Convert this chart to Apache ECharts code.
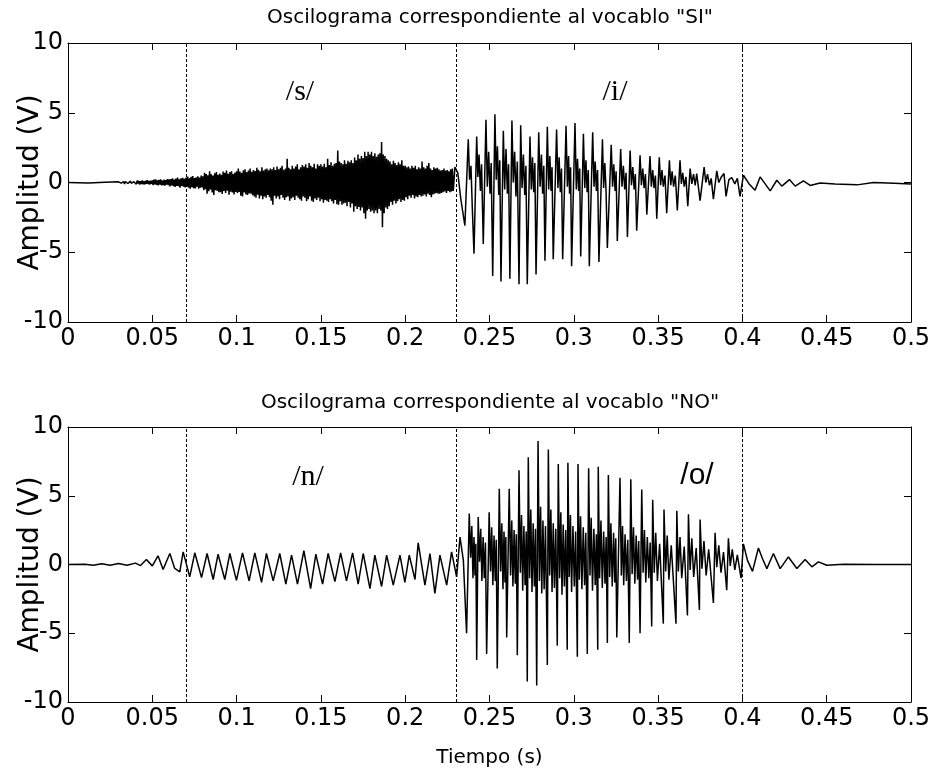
<!DOCTYPE html>
<html>
<head>
<meta charset="utf-8">
<title>Oscilogramas SI / NO</title>
<script src="https://cdn.jsdelivr.net/npm/echarts@6/dist/echarts.min.js"></script>
<style>
  html, body { margin: 0; padding: 0; background: #fff; }
  #chart { width: 930px; height: 774px; }
</style>
</head>
<body>
<div id="chart"></div>
<script>
// tick labels
const xTickLabels = [ '0', '0.05', '0.1', '0.15', '0.2', '0.25', '0.3', '0.35', '0.4', '0.45', '0.5' ]
const yTickLabels = [ '-10', '-5', '0', '5', '10' ]

// segment boundaries (s)
const boundaries = [ 0.068, 0.2295, 0.4 ]

// phoneme labels
const siLabels = [ '/s/', '/i/' ]
const noLabels = [ '/n/', '/o/' ]

// "SI": silence before the fricative
const siLead = [ [ 0, 0 ], [ 0.012, -0.03 ], [ 0.022, 0.02 ] ]

// "SI": /s/ noise, one sample every 0.5 ms starting at 0.030 s (one row = 10 ms)
const siNoiseStart = 0.03
const siNoiseStep = 0.0005
const siNoise = [
  0.05, -0.06, 0.08, -0.04, 0.1, -0.08, 0.06, -0.1, 0.07, -0.05, 0.09, -0.07, 0.05, -0.09, 0.1, -0.06, 0.08, -0.1, 0.06, -0.08,
  0.1, -0.12, 0.14, -0.08, 0.12, -0.15, 0.09, -0.11, 0.15, -0.13, 0.1, -0.14, 0.12, -0.09, 0.16, -0.12, 0.11, -0.15, 0.13, -0.1,
  0.15, -0.18, 0.2, -0.14, 0.22, -0.17, 0.16, -0.21, 0.19, -0.15, 0.23, -0.2, 0.14, -0.18, 0.21, -0.22, 0.17, -0.16, 0.24, -0.19,
  0.22, -0.28, 0.25, -0.2, 0.3, -0.26, 0.21, -0.32, 0.28, -0.24, 0.35, -0.27, 0.23, -0.38, 0.3, -0.25, 0.33, -0.3, 0.26, -0.35,
  0.35, -0.3, 0.42, -0.38, 0.3, -0.45, 0.4, -0.33, 0.46, -0.4, 0.32, -0.42, 0.38, -0.3, 0.45, -0.44, 0.36, -0.38, 0.5, -0.35,
  0.45, -0.55, 0.7, -0.48, 0.6, -0.8, 0.52, -0.62, 0.8, -0.5, 0.58, -0.72, 0.5, -0.9, 0.66, -0.55, 0.75, -0.6, 0.55, -0.7,
  0.65, -0.7, 0.55, -0.82, 0.78, -0.6, 0.7, -0.75, 0.85, -0.58, 0.62, -0.88, 0.75, -0.66, 0.8, -0.72, 0.6, -0.85, 0.72, -0.68,
  0.8, -0.75, 1.0, -0.68, 0.78, -0.95, 0.7, -1.0, 0.88, -0.72, 0.95, -0.85, 0.75, -0.9, 0.85, -0.78, 1.0, -0.8, 0.76, -0.92,
  0.9, -1.0, 0.82, -1.1, 1.05, -0.88, 0.92, -1.15, 0.8, -0.95, 1.1, -1.2, 0.86, -1.0, 0.95, -1.1, 1.0, -0.9, 0.88, -1.05,
  1.0, -1.3, 0.95, -1.6, 1.1, -0.95, 0.9, -1.15, 1.15, -1.0, 0.95, -1.2, 1.05, -0.9, 1.2, -1.1, 0.92, -1.25, 1.0, -1.05,
  1.7, -1.0, 1.05, -1.3, 0.95, -1.15, 1.2, -1.05, 1.0, -1.25, 1.15, -0.95, 1.3, -1.1, 0.95, -1.2, 1.1, -1.3, 1.25, -1.0,
  1.15, -1.1, 1.3, -1.35, 1.05, -1.2, 1.4, -1.0, 1.2, -1.3, 1.1, -1.4, 1.35, -1.15, 1.0, -1.25, 1.3, -1.1, 1.2, -1.35,
  1.3, -1.2, 1.15, -1.45, 1.35, -1.25, 1.1, -1.3, 1.7, -1.4, 1.25, -1.2, 1.45, -1.35, 1.2, -1.5, 1.35, -1.25, 1.4, -1.55,
  2.3, -1.6, 1.5, -1.35, 1.4, -1.6, 1.3, -1.5, 1.6, -1.45, 1.35, -1.7, 1.55, -1.4, 1.45, -1.8, 1.6, -1.5, 1.4, -2.1,
  1.8, -1.7, 1.6, -1.9, 2.0, -1.75, 1.7, -2.0, 1.9, -1.8, 1.75, -2.2, 2.2, -2.6, 1.9, -2.0, 2.2, -1.9, 2.0, -2.1,
  2.2, -2.0, 1.9, -2.2, 2.1, -2.0, 1.85, -2.2, 2.0, -1.9, 2.1, -2.0, 2.9, -3.2, 2.0, -2.2, 1.9, -1.8, 1.7, -1.9,
  1.6, -1.7, 1.5, -1.4, 1.3, -1.6, 1.55, -1.3, 1.4, -1.5, 1.25, -1.35, 1.45, -1.2, 1.3, -1.4, 1.6, -1.25, 1.2, -1.3,
  1.2, -1.05, 1.1, -1.2, 1.15, -0.95, 1.0, -1.1, 1.2, -0.9, 1.05, -1.15, 1.2, -1.0, 0.95, -1.05, 1.1, -0.9, 1.0, -1.0,
  1.5, -0.95, 1.1, -0.85, 1.0, -1.0, 1.2, -0.8, 1.4, -0.9, 1.0, -1.05, 0.9, -0.85, 1.1, -0.8, 1.0, -0.75, 1.05, -0.8,
  0.95, -0.8, 0.85, -0.75, 0.9, -0.7, 1.0, -0.65, 0.85, -0.75, 0.9, -0.6, 0.8, -0.7, 0.95, -0.65, 1.0, -0.6
]

// "SI": /i/ vowel and decay, [time, value]
const siVoiced = [
  [ 0.2295, 1.1 ], [ 0.2312, 0.7 ], [ 0.2330, -1.2 ],
  [ 0.2354, -3.1 ], [ 0.2374, 3.1 ], [ 0.2382, 0.2 ], [ 0.2390, 1.2 ], [ 0.2398, -1.8 ],
  [ 0.2408, -5.1 ], [ 0.2424, 3.3 ], [ 0.2431, 0.4 ], [ 0.2438, 2.0 ], [ 0.2446, -0.6 ], [ 0.2453, 1.3 ],
  [ 0.2463, -4.4 ], [ 0.2479, 4.5 ], [ 0.2487, -0.3 ], [ 0.2495, 2.2 ], [ 0.2503, -0.8 ], [ 0.2510, 1.4 ],
  [ 0.2519, -6.7 ], [ 0.2532, 4.9 ], [ 0.2540, 0.2 ], [ 0.2547, 2.6 ], [ 0.2555, -0.9 ], [ 0.2561, 1.6 ],
  [ 0.2568, -7.1 ], [ 0.2582, 3.7 ], [ 0.2590, -0.5 ], [ 0.2598, 2.4 ], [ 0.2606, -0.8 ], [ 0.2613, 1.3 ],
  [ 0.2621, -6.9 ], [ 0.2633, 4.45 ], [ 0.2641, 0.0 ], [ 0.2649, 2.2 ], [ 0.2657, -1.0 ], [ 0.2665, 1.5 ],
  [ 0.2675, -7.3 ], [ 0.2685, 4.1 ], [ 0.2693, -0.4 ], [ 0.2701, 2.0 ], [ 0.2709, -0.9 ], [ 0.2716, 1.2 ],
  [ 0.2724, -7.3 ], [ 0.2740, 3.3 ], [ 0.2748, -0.5 ], [ 0.2755, 1.8 ], [ 0.2762, -0.7 ], [ 0.2769, 1.4 ],
  [ 0.2776, -6.6 ], [ 0.2792, 3.6 ], [ 0.2800, -0.3 ], [ 0.2808, 2.0 ], [ 0.2815, -0.8 ], [ 0.2822, 1.2 ],
  [ 0.2829, -5.6 ], [ 0.2843, 4.0 ], [ 0.2851, -0.5 ], [ 0.2858, 1.9 ], [ 0.2865, -0.6 ], [ 0.2871, 1.1 ],
  [ 0.2878, -5.5 ], [ 0.2898, 3.8 ], [ 0.2906, -0.4 ], [ 0.2913, 1.8 ], [ 0.2920, -0.7 ], [ 0.2927, 1.0 ],
  [ 0.2934, -5.5 ], [ 0.2954, 4.07 ], [ 0.2962, -0.3 ], [ 0.2969, 1.9 ], [ 0.2975, -0.8 ], [ 0.2981, 1.1 ],
  [ 0.2987, -6.0 ], [ 0.3007, 4.26 ], [ 0.3015, -0.5 ], [ 0.3022, 1.7 ], [ 0.3029, -0.6 ], [ 0.3035, 1.0 ],
  [ 0.3041, -5.3 ], [ 0.3057, 3.5 ], [ 0.3065, -0.4 ], [ 0.3072, 1.6 ], [ 0.3079, -0.7 ], [ 0.3086, 0.9 ],
  [ 0.3092, -6.0 ], [ 0.3112, 3.6 ], [ 0.3120, -0.3 ], [ 0.3127, 1.5 ], [ 0.3134, -0.6 ], [ 0.3141, 0.9 ],
  [ 0.3149, -5.7 ], [ 0.3170, 3.1 ], [ 0.3177, -0.4 ], [ 0.3184, 1.4 ], [ 0.3191, -0.5 ],
  [ 0.3199, -4.7 ], [ 0.3222, 2.7 ], [ 0.3230, -0.3 ], [ 0.3237, 1.3 ], [ 0.3245, -0.6 ], [ 0.3251, 0.8 ],
  [ 0.3258, -4.2 ], [ 0.3278, 2.4 ], [ 0.3286, -0.3 ], [ 0.3294, 1.2 ], [ 0.3302, -0.5 ], [ 0.3310, 0.7 ],
  [ 0.3318, -3.9 ], [ 0.3334, 2.3 ], [ 0.3342, -0.2 ], [ 0.3350, 1.1 ], [ 0.3358, -0.5 ], [ 0.3365, 0.6 ],
  [ 0.3373, -3.45 ], [ 0.3393, 1.95 ], [ 0.3401, -0.2 ], [ 0.3409, 1.0 ], [ 0.3417, -0.4 ], [ 0.3425, 0.6 ],
  [ 0.3433, -2.3 ], [ 0.3452, 1.9 ], [ 0.3460, -0.3 ], [ 0.3468, 0.9 ], [ 0.3476, -0.4 ], [ 0.3484, 0.5 ],
  [ 0.3492, -2.6 ], [ 0.3507, 1.8 ], [ 0.3515, -0.2 ], [ 0.3523, 0.9 ], [ 0.3531, -0.3 ], [ 0.3541, 0.5 ],
  [ 0.3551, -2.2 ], [ 0.3567, 1.6 ], [ 0.3575, -0.2 ], [ 0.3583, 0.8 ], [ 0.3592, -0.3 ], [ 0.3602, 0.5 ],
  [ 0.3614, -2.0 ], [ 0.3630, 1.6 ], [ 0.3638, -0.1 ], [ 0.3646, 0.7 ], [ 0.3655, -0.3 ], [ 0.3665, 0.4 ],
  [ 0.3676, -1.7 ], [ 0.3690, 1.0 ], [ 0.3700, -0.1 ], [ 0.3710, 0.6 ], [ 0.3720, -0.2 ], [ 0.3729, 0.64 ],
  [ 0.3749, -1.3 ], [ 0.3773, 1.1 ], [ 0.3783, 0.0 ], [ 0.3793, 0.6 ], [ 0.3805, -0.2 ], [ 0.3815, 0.3 ],
  [ 0.3828, -1.2 ], [ 0.3848, 0.83 ], [ 0.3860, 0.0 ], [ 0.3875, 0.4 ], [ 0.3891, 0.64 ],
  [ 0.3903, -1.0 ], [ 0.3920, 0.2 ], [ 0.3937, 0.36 ], [ 0.3955, -0.1 ], [ 0.3970, 0.3 ],
  [ 0.3986, -1.0 ], [ 0.4006, 0.52 ], [ 0.4040, -0.1 ], [ 0.4075, -0.55 ], [ 0.4105, 0.4 ],
  [ 0.4165, -0.6 ], [ 0.4204, 0.16 ], [ 0.4234, -0.26 ], [ 0.4279, 0.21 ], [ 0.4313, -0.26 ],
  [ 0.4362, 0.11 ], [ 0.4402, -0.21 ], [ 0.4461, -0.03 ], [ 0.4550, -0.1 ], [ 0.4680, -0.17 ],
  [ 0.4778, 0.0 ], [ 0.4900, -0.05 ], [ 0.5000, -0.1 ]
]

// "NO": silence and first glottal pulses
const noLead = [
  [ 0, 0 ], [ 0.010, 0.02 ], [ 0.015, -0.05 ], [ 0.020, 0.05 ], [ 0.025, -0.05 ], [ 0.030, 0.08 ],
  [ 0.035, -0.05 ], [ 0.040, 0.1 ], [ 0.043, -0.08 ], [ 0.0465, 0.36 ], [ 0.050, -0.1 ],
  [ 0.0534, 0.63 ], [ 0.0564, -0.36 ], [ 0.0604, 0.8 ], [ 0.0633, -0.29 ], [ 0.0663, -0.53 ]
]

// "NO": /n/ nasal, [time, value]
const noNasal = [
  [ 0.0683, 0.92 ], [ 0.0722, -0.9 ], [ 0.0752, 0.85 ], [ 0.0792, -0.95 ], [ 0.0825, 0.8 ],
  [ 0.0861, -1.09 ], [ 0.0890, 0.75 ], [ 0.0930, -1.09 ], [ 0.0960, 0.8 ], [ 0.0999, -1.15 ],
  [ 0.1035, 0.85 ], [ 0.1074, -1.19 ], [ 0.1108, 0.85 ], [ 0.1148, -1.3 ], [ 0.1177, 0.8 ],
  [ 0.1217, -1.19 ], [ 0.1256, 0.8 ], [ 0.1292, -1.43 ], [ 0.1326, 0.68 ], [ 0.1361, -1.43 ],
  [ 0.1399, 1.0 ], [ 0.1439, -1.75 ], [ 0.1470, 0.75 ], [ 0.1510, -1.43 ], [ 0.1543, 0.8 ],
  [ 0.1583, -1.25 ], [ 0.1617, 0.85 ], [ 0.1652, -1.19 ], [ 0.1688, 0.85 ], [ 0.1721, -1.43 ],
  [ 0.1751, 0.8 ], [ 0.1791, -1.75 ], [ 0.1820, 0.68 ], [ 0.1860, -1.6 ], [ 0.1890, 0.68 ],
  [ 0.1929, -1.5 ], [ 0.1969, 0.68 ], [ 0.1998, -1.3 ], [ 0.2024, 0.68 ], [ 0.2058, -1.09 ],
  [ 0.2077, 1.57 ], [ 0.2117, -1.5 ], [ 0.2147, 0.8 ], [ 0.2176, -2.1 ], [ 0.2206, 0.68 ],
  [ 0.2246, -1.5 ], [ 0.2275, 0.92 ], [ 0.2305, -0.9 ]
]

// "NO": /o/ vowel and decay, [time, value]
const noVowel = [
  [ 0.2325, 2.0 ], [ 0.2345, 0.3 ],
  [ 0.2364, -5.0 ], [ 0.2380, 3.7 ], [ 0.2388, 0.5 ], [ 0.2395, 2.8 ], [ 0.2402, -1.0 ], [ 0.2408, 2.0 ], [ 0.2414, -0.8 ], [ 0.2419, 1.5 ],
  [ 0.2424, -6.95 ], [ 0.2433, 3.46 ], [ 0.2441, 0.2 ], [ 0.2448, 2.6 ], [ 0.2455, -1.2 ], [ 0.2462, 2.0 ], [ 0.2469, -1.0 ], [ 0.2476, 1.6 ],
  [ 0.2483, -6.5 ], [ 0.2498, 3.8 ], [ 0.2506, -0.5 ], [ 0.2513, 2.7 ], [ 0.2520, -1.5 ], [ 0.2527, 2.1 ], [ 0.2534, -1.2 ], [ 0.2540, 1.8 ],
  [ 0.2546, -7.56 ], [ 0.2558, 5.5 ], [ 0.2566, -0.5 ], [ 0.2573, 3.0 ], [ 0.2580, -1.8 ], [ 0.2586, 2.4 ], [ 0.2592, -1.3 ], [ 0.2597, 2.0 ],
  [ 0.2602, -5.3 ], [ 0.2617, 5.5 ], [ 0.2625, -0.8 ], [ 0.2632, 3.2 ], [ 0.2639, -1.6 ], [ 0.2646, 2.5 ], [ 0.2653, -1.4 ], [ 0.2659, 2.2 ],
  [ 0.2665, -6.6 ], [ 0.2675, 6.85 ], [ 0.2683, -0.6 ], [ 0.2690, 3.6 ], [ 0.2697, -1.9 ], [ 0.2704, 2.8 ], [ 0.2711, -1.5 ], [ 0.2718, 2.4 ],
  [ 0.2724, -8.5 ], [ 0.2730, 7.8 ], [ 0.2738, -1.0 ], [ 0.2745, 4.0 ], [ 0.2752, -2.0 ], [ 0.2759, 3.0 ], [ 0.2766, -1.6 ], [ 0.2773, 2.6 ],
  [ 0.2780, -8.8 ], [ 0.2788, 8.98 ], [ 0.2796, -1.2 ], [ 0.2803, 4.2 ], [ 0.2810, -2.1 ], [ 0.2817, 3.2 ], [ 0.2824, -1.8 ], [ 0.2832, 2.8 ],
  [ 0.2843, -7.3 ], [ 0.2849, 8.36 ], [ 0.2857, -0.8 ], [ 0.2864, 4.0 ], [ 0.2871, -2.0 ], [ 0.2878, 3.0 ], [ 0.2885, -1.7 ], [ 0.2893, 2.6 ],
  [ 0.2902, -5.9 ], [ 0.2908, 7.3 ], [ 0.2916, -1.0 ], [ 0.2923, 3.8 ], [ 0.2930, -2.2 ], [ 0.2937, 2.9 ], [ 0.2944, -1.6 ], [ 0.2952, 2.5 ],
  [ 0.2961, -6.2 ], [ 0.2965, 7.4 ], [ 0.2973, -0.9 ], [ 0.2980, 3.6 ], [ 0.2987, -2.0 ], [ 0.2995, 2.8 ], [ 0.3003, -1.6 ], [ 0.3011, 2.4 ],
  [ 0.3021, -6.7 ], [ 0.3025, 7.3 ], [ 0.3033, -1.1 ], [ 0.3040, 3.5 ], [ 0.3048, -1.8 ], [ 0.3056, 2.7 ], [ 0.3064, -1.5 ], [ 0.3071, 2.3 ],
  [ 0.3080, -6.5 ], [ 0.3088, 7.0 ], [ 0.3096, -0.8 ], [ 0.3103, 3.4 ], [ 0.3111, -1.9 ], [ 0.3119, 2.6 ], [ 0.3127, -1.5 ], [ 0.3134, 2.2 ],
  [ 0.3142, -6.2 ], [ 0.3145, 7.1 ], [ 0.3153, -1.0 ], [ 0.3161, 3.2 ], [ 0.3169, -1.7 ], [ 0.3177, 2.4 ], [ 0.3185, -1.4 ], [ 0.3192, 2.0 ],
  [ 0.3199, -5.7 ], [ 0.3205, 6.5 ], [ 0.3213, -0.9 ], [ 0.3220, 3.0 ], [ 0.3228, -1.6 ], [ 0.3236, 2.3 ], [ 0.3243, -1.3 ], [ 0.3249, 1.9 ],
  [ 0.3255, -5.3 ], [ 0.3274, 6.3 ], [ 0.3282, -0.8 ], [ 0.3289, 2.8 ], [ 0.3296, -1.5 ], [ 0.3304, 2.2 ], [ 0.3312, -1.2 ], [ 0.3320, 1.8 ],
  [ 0.3329, -5.7 ], [ 0.3338, 6.2 ], [ 0.3346, -0.7 ], [ 0.3354, 2.7 ], [ 0.3362, -1.4 ], [ 0.3370, 2.1 ], [ 0.3378, -1.1 ], [ 0.3385, 1.7 ],
  [ 0.3393, -5.0 ], [ 0.3403, 5.45 ], [ 0.3411, -0.6 ], [ 0.3419, 2.5 ], [ 0.3427, -1.3 ], [ 0.3436, 2.0 ], [ 0.3445, -1.0 ], [ 0.3453, 1.6 ],
  [ 0.3462, -4.5 ], [ 0.3468, 4.7 ], [ 0.3477, -0.6 ], [ 0.3486, 2.3 ], [ 0.3496, -1.2 ], [ 0.3509, 1.5 ],
  [ 0.3531, -4.3 ], [ 0.3535, 4.0 ], [ 0.3545, -0.5 ], [ 0.3554, 2.1 ], [ 0.3564, -1.1 ], [ 0.3578, 1.4 ],
  [ 0.3606, -4.3 ], [ 0.3611, 3.9 ], [ 0.3620, -0.5 ], [ 0.3630, 2.0 ], [ 0.3640, -1.0 ], [ 0.3655, 1.3 ],
  [ 0.3674, -3.7 ], [ 0.3680, 3.66 ], [ 0.3690, -0.4 ], [ 0.3700, 1.9 ], [ 0.3711, -0.9 ], [ 0.3726, 1.2 ],
  [ 0.3745, -3.3 ], [ 0.3749, 3.27 ], [ 0.3760, -0.3 ], [ 0.3772, 1.7 ], [ 0.3785, -0.8 ], [ 0.3800, 1.1 ],
  [ 0.3828, -2.8 ], [ 0.3838, 2.3 ], [ 0.3848, -0.2 ], [ 0.3860, 1.4 ], [ 0.3873, -0.6 ], [ 0.3888, 0.9 ],
  [ 0.3907, -1.87 ], [ 0.3917, 1.9 ], [ 0.3928, -0.1 ], [ 0.3940, 1.1 ], [ 0.3955, -0.4 ], [ 0.3970, 0.7 ],
  [ 0.3992, -1.0 ], [ 0.4006, 1.5 ], [ 0.4030, 0.3 ], [ 0.4060, -0.5 ], [ 0.4095, 1.2 ], [ 0.4120, 0.4 ],
  [ 0.4145, -0.3 ], [ 0.4184, 0.8 ], [ 0.4224, -0.3 ], [ 0.4273, 0.55 ], [ 0.4323, -0.29 ],
  [ 0.4372, 0.36 ], [ 0.4412, -0.17 ], [ 0.4451, 0.19 ], [ 0.4500, -0.05 ], [ 0.4600, 0.02 ],
  [ 0.4800, 0.0 ], [ 0.5000, 0.0 ]
]

const siData = siLead
  .concat( siNoise.map( ( v, i ) => [ siNoiseStart + i * siNoiseStep, v ] ) )
  .concat( siVoiced )
const noData = noLead.concat( noNasal, noVowel )

const labelFont = 'DejaVu Sans'

const xAxisFor = ( gridIndex, withName ) => [
  {
    gridIndex,
    type : 'value',
    min : 0,
    max : 0.5,
    interval : 0.05,
    position : 'bottom',
    name : withName ? 'Tiempo (s)' : '',
    nameLocation : 'middle',
    nameGap : 46,
    nameMoveOverlap : false,
    nameTextStyle : { color : '#000', fontFamily : labelFont, fontSize : 20 },
    axisLine : { onZero : false, lineStyle : { color : '#000', width : 1 }},
    axisTick : { inside : true, length : 7, lineStyle : { color : '#000' }},
    axisLabel : {
      color : '#000',
      fontFamily : labelFont,
      fontSize : 24,
      margin : 5,
      showMinLabel : true,
      showMaxLabel : true,
      hideOverlap : false,
      formatter : v => xTickLabels[ Math.round( v / 0.05 ) ]
    },
    splitLine : { show : false }
  },
  {
    gridIndex,
    type : 'value',
    min : 0,
    max : 0.5,
    interval : 0.05,
    position : 'top',
    axisLine : { onZero : false, lineStyle : { color : '#000', width : 1 }},
    axisTick : { inside : true, length : 7, lineStyle : { color : '#000' }},
    axisLabel : { show : false },
    splitLine : { show : false }
  }
]

const yAxisFor = gridIndex => [
  {
    gridIndex,
    type : 'value',
    min : -10,
    max : 10,
    interval : 5,
    position : 'left',
    name : 'Amplitud (V)',
    nameLocation : 'middle',
    nameRotate : 90,
    nameGap : 23,
    nameMoveOverlap : false,
    nameTextStyle : { color : '#000', fontFamily : labelFont, fontSize : 28 },
    axisLine : { onZero : false, lineStyle : { color : '#000', width : 1 }},
    axisTick : { inside : true, length : 7, lineStyle : { color : '#000' }},
    axisLabel : {
      color : '#000',
      fontFamily : labelFont,
      fontSize : 24,
      margin : 5,
      showMinLabel : true,
      showMaxLabel : true,
      hideOverlap : false,
      formatter : v => yTickLabels[ Math.round( ( v + 10 ) / 5 ) ]
    },
    splitLine : { show : false }
  },
  {
    gridIndex,
    type : 'value',
    min : -10,
    max : 10,
    interval : 5,
    position : 'right',
    axisLine : { onZero : false, lineStyle : { color : '#000', width : 1 }},
    axisTick : { inside : true, length : 7, lineStyle : { color : '#000' }},
    axisLabel : { show : false },
    splitLine : { show : false }
  }
]

const waveSeries = ( axisIndex, data ) => ( {
  type : 'line',
  xAxisIndex : axisIndex,
  yAxisIndex : axisIndex,
  data,
  symbol : 'none',
  silent : true,
  lineStyle : { color : '#000', width : 1.5 },
  markLine : {
    silent : true,
    symbol : 'none',
    label : { show : false },
    lineStyle : { color : '#000', width : 1, type : [ 3, 2 ] },
    data : boundaries.map( b => ( { xAxis : b } ) )
  }
} )

const textItem = ( text, x, y, font ) => ( {
  type : 'text',
  x,
  y,
  silent : true,
  style : { text, fill : '#000', font, align : 'center', verticalAlign : 'middle' }
} )

const initChart = () => {
  const chart = echarts.init( document.getElementById( 'chart' ), null, { renderer : 'canvas' } )

  chart.setOption( {
    animation : false,
    backgroundColor : '#fff',
    grid : [
      { left : 68, top : 43, width : 843, height : 279, outerBoundsMode : 'none', containLabel : false },
      { left : 68, top : 427, width : 843, height : 275, outerBoundsMode : 'none', containLabel : false }
    ],
    xAxis : xAxisFor( 0, false ).concat( xAxisFor( 1, true ) ),
    yAxis : yAxisFor( 0 ).concat( yAxisFor( 1 ) ),
    series : [
      waveSeries( 0, siData ),
      waveSeries( 2, noData )
    ],
    graphic : [
      textItem( 'Oscilograma correspondiente al vocablo "SI"', 490, 18, '20px "DejaVu Sans"' ),
      textItem( 'Oscilograma correspondiente al vocablo "NO"', 490, 403, '20px "DejaVu Sans"' ),
      textItem( siLabels[ 0 ], 300, 92, '30px "Liberation Serif"' ),
      textItem( siLabels[ 1 ], 615, 92, '30px "Liberation Serif"' ),
      textItem( noLabels[ 0 ], 308, 477, '30px "Liberation Serif"' ),
      textItem( noLabels[ 1 ], 697, 476, '30px "Liberation Sans"' )
    ]
  } )
}

initChart()
</script>
</body>
</html>
